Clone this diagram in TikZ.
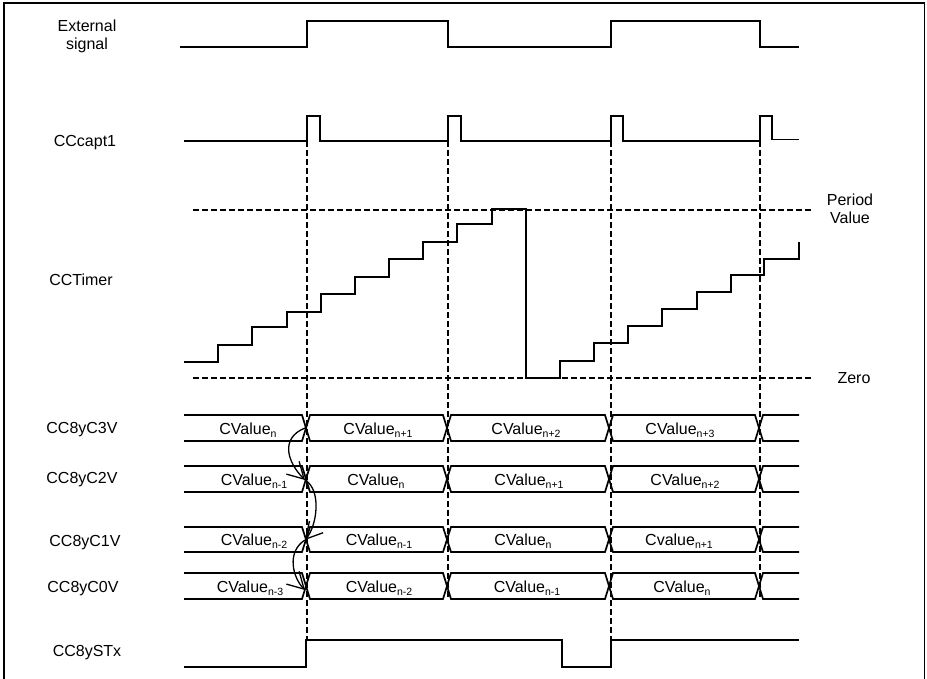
\documentclass[tikz,border=0pt]{standalone}
\usepackage{fontspec}
\setmainfont{Liberation Sans}
\usetikzlibrary{arrows.meta}
\newcommand{\cvsub}[1]{\raisebox{-3pt}{\fontsize{10.5}{10.5}\selectfont #1}}
\begin{document}
\begin{tikzpicture}[x=1pt,y=-1pt,
  sig/.style={line width=1.7pt},
  gridline/.style={line width=1.3pt, dash pattern=on 6pt off 3pt},
  lbl/.style={font=\fontsize{16}{18}\selectfont, anchor=base, inner sep=0pt},
  hop/.style={line width=1.3pt, -{Straight Barb[length=16pt,width=18pt]}},
  frame/.style={line width=1.3pt}]
\useasboundingbox (0,0) rectangle (927,678);
% frame
\draw[frame] (4,690) -- (4,3) -- (924.5,3) -- (924.5,690);

% labels
\node[lbl, anchor=north, align=center] (lext) at (87,20) {External\\signal};
\node[lbl] (lcapt) at (85,146.5) {CCcapt1};
\node[lbl] (ltimer) at (81,285) {CCTimer};
\node[lbl, anchor=north, align=center] (lper) at (850,194) {Period\\Value};
\node[lbl] (lzero) at (854,383) {Zero};
\node[lbl] (lc3) at (82,433) {CC8yC3V};
\node[lbl] (lc2) at (82,483) {CC8yC2V};
\node[lbl] (lc1) at (85,546) {CC8yC1V};
\node[lbl] (lc0) at (83,592) {CC8yC0V};
\node[lbl] (lst) at (87,656) {CC8ySTx};

% reference dashed lines
\draw[gridline] (193,210) -- (812,210);
\draw[gridline] (193,378) -- (812,378);
\draw[gridline] (307,141) -- (307,640);
\draw[gridline] (448,141) -- (448,599);
\draw[gridline] (611,141) -- (611,640);
\draw[gridline] (760,141) -- (760,599);

% External signal
\draw[sig] (180,47) -- (307,47) -- (307,21) -- (448,21) -- (448,47) -- (611,47) -- (611,21) -- (760,21) -- (760,47) -- (799,47);
% CCcapt1
\draw[sig] (184,141) -- (307,141) -- (307,116) -- (320,116) -- (320,141) -- (448,141) -- (448,116) -- (461,116) -- (461,141)
  -- (611,141) -- (611,116) -- (623,116) -- (623,141) -- (760,141) -- (760,116) -- (772,116) -- (772,139.5) -- (799,139.5);
% CCTimer
\draw[sig] (184,362) -- (218,362) -- (218,345) -- (252,345) -- (252,327) -- (287,327) -- (287,312) -- (321,312)
  -- (321,294) -- (355,294) -- (355,277) -- (389,277) -- (389,259) -- (423,259) -- (423,242) -- (457,242)
  -- (457,224) -- (492,224) -- (492,209) -- (526,209) -- (526,378) -- (560,378) -- (560,361) -- (594,361)
  -- (594,343) -- (628,343) -- (628,326) -- (662,326) -- (662,309) -- (697,309) -- (697,292) -- (731,292)
  -- (731,275) -- (764,275) -- (764,259) -- (799,259) -- (799,242);
% buses
\foreach \yt/\yb in {415/441, 466/492, 527/552, 573/599} {
  \draw[sig] (184,\yt) -- (302,\yt) -- (310,\yb) -- (443,\yb) -- (451,\yt) -- (605,\yt) -- (613,\yb) -- (755,\yb) -- (763,\yt) -- (799,\yt);
  \draw[sig] (184,\yb) -- (302,\yb) -- (310,\yt) -- (443,\yt) -- (451,\yb) -- (605,\yb) -- (613,\yt) -- (755,\yt) -- (763,\yb) -- (799,\yb);
}
% CC8ySTx
\draw[sig] (184,667) -- (306,667) -- (306,640) -- (562,640) -- (562,667) -- (611,667) -- (611,640) -- (799,640);

% bus values
\node[lbl] (v30) at (248,434) {CValue\cvsub{n}};
\node[lbl] (v31) at (378,434) {CValue\cvsub{n+1}};
\node[lbl] (v32) at (526,434) {CValue\cvsub{n+2}};
\node[lbl] (v33) at (680,434) {CValue\cvsub{n+3}};
\node[lbl] (v20) at (254,485) {CValue\cvsub{n-1}};
\node[lbl] (v21) at (376,485) {CValue\cvsub{n}};
\node[lbl] (v22) at (529,485) {CValue\cvsub{n+1}};
\node[lbl] (v23) at (685,485) {CValue\cvsub{n+2}};
\node[lbl] (v10) at (254,545.5) {CValue\cvsub{n-2}};
\node[lbl] (v11) at (379,545.5) {CValue\cvsub{n-1}};
\node[lbl] (v12) at (523,545.5) {CValue\cvsub{n}};
\node[lbl] (v13) at (679,545.5) {Cvalue\cvsub{n+1}};
\node[lbl] (v00) at (250,592) {CValue\cvsub{n-3}};
\node[lbl] (v01) at (379,592) {CValue\cvsub{n-2}};
\node[lbl] (v02) at (527,592) {CValue\cvsub{n-1}};
\node[lbl] (v03) at (682,592) {CValue\cvsub{n}};

% shift arrows
\coordinate (x3) at (305,428);
\coordinate (x2) at (305,480);
\coordinate (x1) at (305,540);
\coordinate (x0) at (305,590);
\draw[hop] (x3) .. controls (280,438) and (287,462) .. (x2);
\draw[hop] (x2) .. controls (322,490) and (317,526) .. (x1);
\draw[hop] (x1) .. controls (286,552) and (293,578) .. (x0);
\end{tikzpicture}
\end{document}
